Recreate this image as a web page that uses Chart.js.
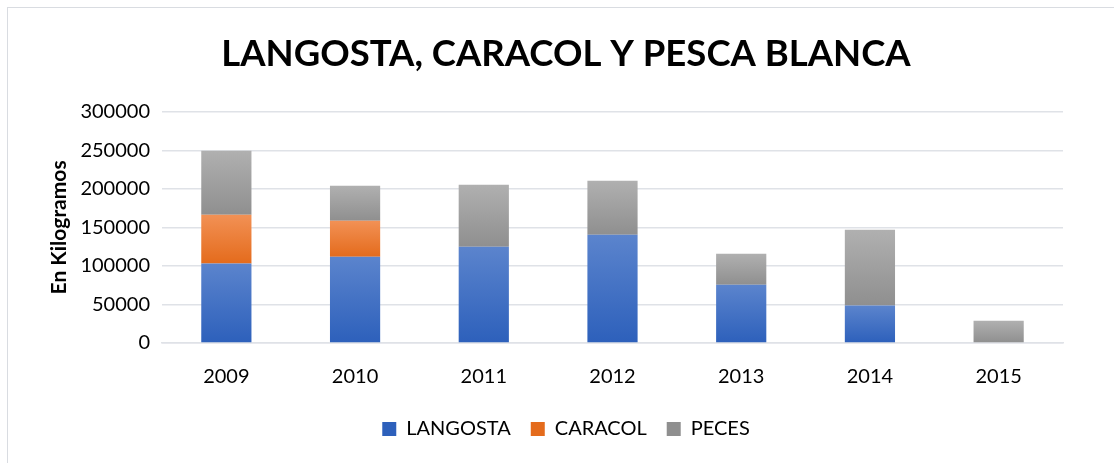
<!DOCTYPE html>
<html>
<head>
<meta charset="utf-8">
<script src="https://cdn.jsdelivr.net/npm/chart.js@4/dist/chart.umd.min.js"></script>
<style>
    html, body { margin: 0; padding: 0; background: #ffffff; overflow: hidden; }
    #wrap { position: relative; width: 1114px; height: 463px; }
    #frame { position: absolute; left: 7px; top: 7px; width: 1130px; height: 480px; border: 1px solid #d9dce1; box-sizing: border-box; }
</style>
</head>
<body>
<div id="wrap">
    <div id="frame"></div>
    <canvas id="pescaChart"></canvas>
</div>
<script>
const years = ['2009', '2010', '2011', '2012', '2013', '2014', '2015'];
const langosta = [103000, 112000, 125000, 140500, 75500, 48500, 0];
const caracol = [63500, 46500, 0, 0, 0, 0, 0];
const peces = [83000, 45500, 80500, 70000, 40300, 98500, 29000];
const yTicks = [0, 50000, 100000, 150000, 200000, 250000, 300000];

const seriesList = [langosta, caracol, peces];

// top / bottom colours of the excel style gradient
function gradientFill(dsIndex, top, bottom, mid) {
    return function(context) {
        if (context.type !== 'data') return mid;
        const chart = context.chart;
        const yScale = chart.scales.y;
        if (!yScale || !chart.chartArea) return mid;
        const i = context.dataIndex;
        let base = 0;
        for (let k = 0; k < dsIndex; k++) base += seriesList[k][i];
        const value = seriesList[dsIndex][i];
        const y0 = yScale.getPixelForValue(base + value);
        const y1 = yScale.getPixelForValue(base);
        if (!isFinite(y0) || !isFinite(y1) || y1 - y0 < 1) return mid;
        const g = chart.ctx.createLinearGradient(0, y0, 0, y1);
        g.addColorStop(0, top);
        g.addColorStop(1, bottom);
        return g;
    };
}

document.addEventListener('DOMContentLoaded', function() {
    Chart.defaults.font.family = 'Lato, "Open Sans", sans-serif';
    Chart.defaults.color = '#000000';

    new Chart(document.getElementById('pescaChart'), {
        type: 'bar',
        data: {
            labels: years,
            datasets: [{
                label: 'LANGOSTA',
                data: langosta,
                backgroundColor: gradientFill(0, '#5b84cd', '#2d60bb', '#4472c4'),
                borderWidth: 0
            }, {
                label: 'CARACOL',
                data: caracol,
                backgroundColor: gradientFill(1, '#f29155', '#e46b1c', '#ed7d31'),
                borderWidth: 0
            }, {
                label: 'PECES',
                data: peces,
                backgroundColor: gradientFill(2, '#b0b0b0', '#8f8f8f', '#a5a5a5'),
                borderWidth: 0
            }]
        },
        options: {
            responsive: true,
            maintainAspectRatio: false,
            animation: false,
            datasets: {
                bar: {
                    barPercentage: 0.39,
                    categoryPercentage: 1
                }
            },
            layout: {
                padding: { left: 69, right: 51, top: 0, bottom: 14 }
            },
            plugins: {
                title: {
                    display: true,
                    text: 'LANGOSTA, CARACOL Y PESCA BLANCA',
                    font: { size: 36.5, weight: 'bold' },
                    color: '#000000',
                    padding: { top: 32, bottom: 36 }
                },
                legend: {
                    position: 'bottom',
                    labels: {
                        boxWidth: 14,
                        boxHeight: 14,
                        padding: 20,
                        font: { size: 20 },
                        color: '#000000'
                    }
                },
                tooltip: { enabled: false }
            },
            scales: {
                x: {
                    stacked: true,
                    grid: { display: false, drawTicks: false },
                    border: { color: '#dfe2e7', width: 1.5 },
                    ticks: { padding: 22, font: { size: 20 }, color: '#000000' },
                    afterFit: function(scale) { scale.height = 56; }
                },
                y: {
                    stacked: true,
                    min: 0,
                    max: 300000,
                    afterBuildTicks: function(scale) {
                        scale.ticks = yTicks.map(v => ({ value: v }));
                    },
                    grid: { color: '#dfe2e7', lineWidth: 1.5, drawTicks: false },
                    border: { display: false },
                    ticks: {
                        padding: 12,
                        font: { size: 20 },
                        color: '#000000',
                        callback: function(value) { return String(value); }
                    },
                    title: {
                        display: true,
                        text: 'En Kilogramos',
                        font: { size: 21, weight: 'bold' },
                        color: '#000000',
                        padding: { top: -22, bottom: 0 }
                    },
                    afterFit: function(scale) { scale.width = 93; }
                }
            }
        }
    });
});
</script>
</body>
</html>
